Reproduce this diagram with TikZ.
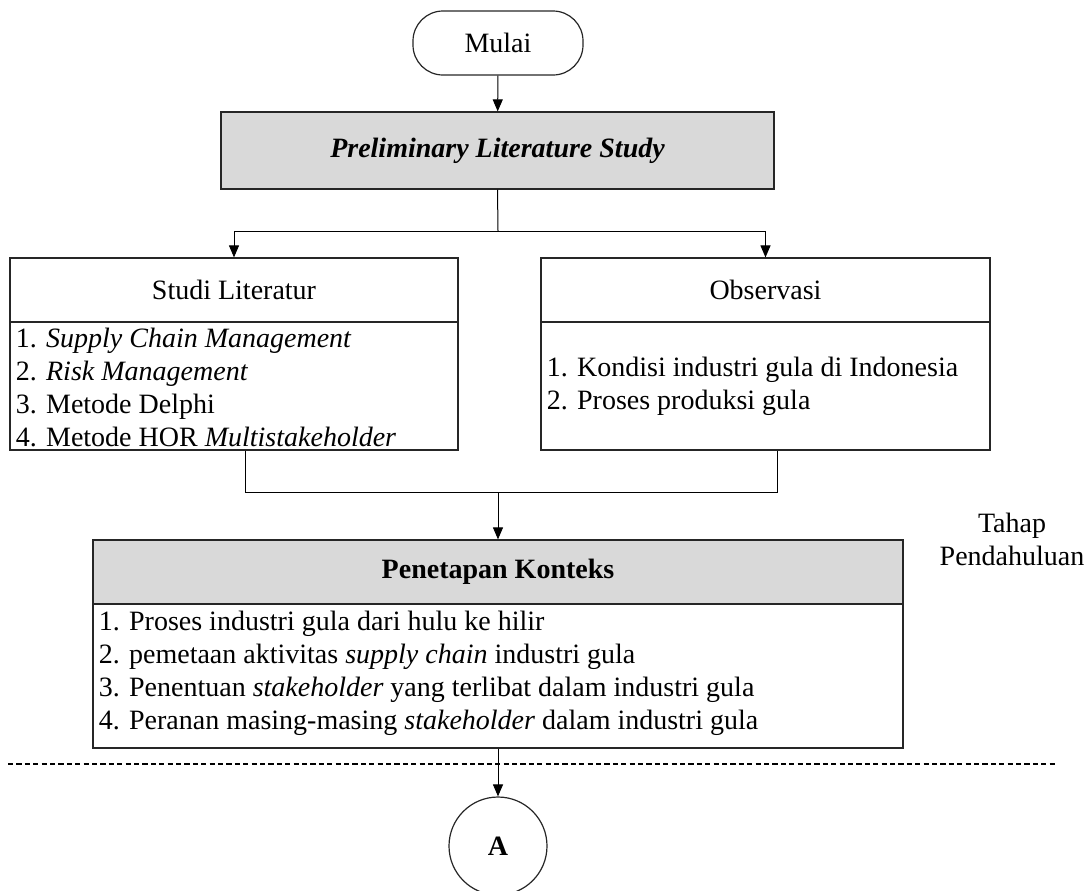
\documentclass[tikz,border=0pt]{standalone}
\usepackage{fontspec}
\setmainfont{Liberation Serif}
\usetikzlibrary{arrows.meta,positioning,calc}
\definecolor{boxgray}{HTML}{D9D9D9}
\tikzset{
  base/.style={font=\fontsize{14}{16.5}\selectfont},
  boxline/.style={draw=black!85, line width=0.6pt},
  hdr/.style={base, boxline, rectangle, inner sep=0pt},
  items/.style={base, align=left, anchor=west, inner sep=0pt},
  arr/.style={line width=0.5pt, -{Triangle[length=6pt,width=5pt]}},
  con/.style={line width=0.5pt},
}
\begin{document}
\begin{tikzpicture}[x=0.5pt,y=-0.5pt]
\useasboundingbox (0,0) rectangle (1091,890);
% start
\node[hdr, rounded corners=15pt, minimum width=85pt, minimum height=32pt] (mulai) at (498,43) {Mulai};
\node[hdr, fill=boxgray, minimum width=276.5pt, minimum height=38.5pt, font=\fontsize{14}{16.5}\selectfont\bfseries\itshape] (prelim) at (497.5,150.5) {Preliminary Literature Study};
% studi literatur
\node[hdr, minimum width=224pt, minimum height=32pt] (studih) at (234,290) {Studi Literatur};
\node[hdr, minimum width=224pt, minimum height=64pt] (studib) at (234,386) {};
\node[items] (studit) at ($(studib.west)+(6,1)$) {1. \textit{Supply Chain Management}\\2. \textit{Risk Management}\\3. Metode Delphi\\4. Metode HOR \textit{Multistakeholder}};
% observasi
\node[hdr, minimum width=224.5pt, minimum height=32pt] (obsh) at (765.5,290) {Observasi};
\node[hdr, minimum width=224.5pt, minimum height=64pt] (obsb) at (765.5,386) {};
\node[items] (obst) at ($(obsb.west)+(6,0)$) {1. Kondisi industri gula di Indonesia\\2. Proses produksi gula};
% penetapan konteks
\node[hdr, fill=boxgray, minimum width=405pt, minimum height=32pt, font=\fontsize{14}{16.5}\selectfont\bfseries] (peth) at (498,572) {Penetapan Konteks};
\node[hdr, minimum width=405pt, minimum height=72pt] (petb) at (498,676) {};
\node[items] (pett) at ($(petb.west)+(6,-3)$) {1. Proses industri gula dari hulu ke hilir\\2. pemetaan aktivitas \textit{supply chain} industri gula\\3. Penentuan \textit{stakeholder} yang terlibat dalam industri gula\\4. Peranan masing-masing \textit{stakeholder} dalam industri gula};
% side label
\node[base, align=center] (tahap) at (1012,539) {Tahap\\Pendahuluan};
% connector A
\node[base, boxline, circle, minimum size=49pt, inner sep=0pt, font=\fontsize{14}{16.5}\selectfont\bfseries] (A) at (498,846) {A};
% coordinates
\coordinate (split) at (498,231);
\coordinate (jl) at (245,492);
\coordinate (jr) at (777,492);
\coordinate (jm) at (498,492);
\coordinate (d1) at (8,764);
\coordinate (d2) at (1056,764);
% connectors
\draw[arr] (mulai) -- (prelim);
\draw[con] (prelim.south) -- (split);
\draw[arr] (split) -| (studih.north);
\draw[arr] (split) -| (obsh.north);
\draw[con] (studib.south -| jl) -- (jl) -- (jr) -- (obsb.south -| jr);
\draw[arr] (jm) -- (peth.north);
\draw[line width=1.3pt, dash pattern=on 2.6pt off 1.6pt] (d1) -- (d2);
\draw[arr] (petb.south) -- (A.north);
\end{tikzpicture}
\end{document}
